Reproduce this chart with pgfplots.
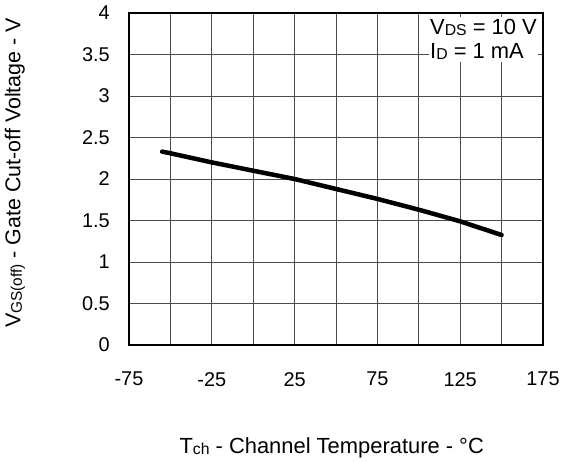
\documentclass[border=0pt]{standalone}
\usepackage{fontspec}
\setmainfont{Liberation Sans}
\usepackage{graphicx}
\usepackage{pgfplots}
\pgfplotsset{compat=1.18}
\newcommand{\sub}[1]{\raisebox{-0.12ex}{\scalebox{0.72}{#1}}}
\pgfplotstableread{
T V
-55 2.33
-50 2.31
-25 2.20
0 2.10
25 2.00
50 1.88
75 1.76
100 1.63
125 1.49
150 1.325
}\vgs
\begin{document}
\begin{tikzpicture}
\useasboundingbox (-129bp,-117bp) rectangle (433bp,345bp);
\begin{axis}[
  scale only axis,
  width=414bp, height=332bp,
  at={(0,0)}, anchor=south west,
  xmin=-75, xmax=175, ymin=0, ymax=4,
  xtick={-75,-25,25,75,125,175},
  xticklabels={-75,-25,25,75,125,175},
  minor xtick={-50,0,50,100,150},
  ytick={0,0.5,1,1.5,2,2.5,3,3.5,4},
  yticklabels={0,0.5,1,1.5,2,2.5,3,3.5,4},
  grid=both,
  major grid style={black!70, line width=0.8bp},
  minor grid style={black!70, line width=0.8bp},
  major tick length=0pt, minor tick length=0pt,
  axis line style={line width=2.2bp},
  tick style={draw=none},
  xticklabel style={font=\fontsize{20}{24}\selectfont, anchor=north, inner sep=0pt, yshift=-27bp},
  yticklabel style={font=\fontsize{20}{24}\selectfont, anchor=east, inner sep=0pt, xshift=-19bp},
  xlabel={T\sub{ch} - Channel Temperature - °C},
  ylabel={V\sub{GS(off)} - Gate Cut-off Voltage - V},
  xlabel style={font=\fontsize{22}{25}\selectfont, at={(axis description cs:0.4896,-0.310)}, anchor=center},
  ylabel style={font=\fontsize{21.5}{25}\selectfont, at={(axis description cs:-0.2754,0.518)}, anchor=center},
  clip=false,
]
\addplot[black, line width=4.5bp, line cap=round] table[x=T, y=V] {\vgs};
\node[anchor=north east, fill=white, align=left, inner xsep=1bp, inner ysep=2bp,
  font=\fontsize{22}{24}\selectfont, xshift=-5bp, yshift=-4bp]
  at (rel axis cs:1,1) {V\sub{DS} = 10 V\\I\sub{D} = 1 mA};
\end{axis}
\end{tikzpicture}
\end{document}
